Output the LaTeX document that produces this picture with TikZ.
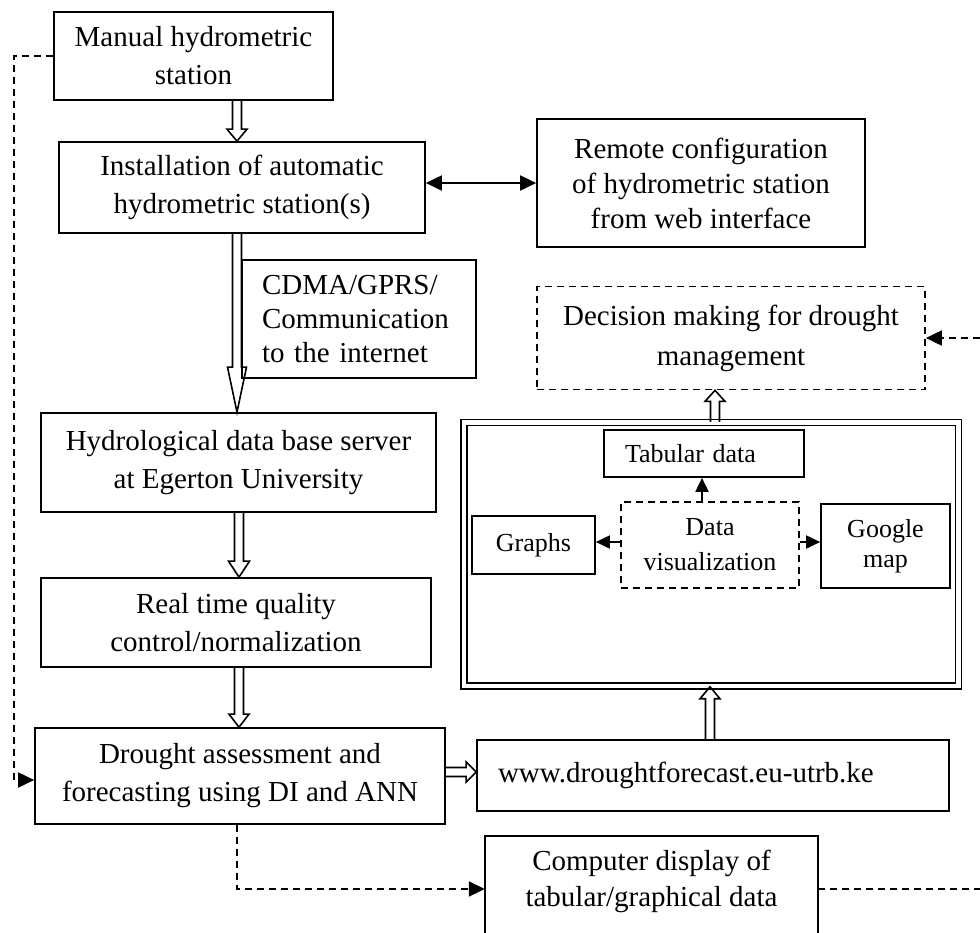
\documentclass[tikz,border=0pt]{standalone}
\usepackage{fontspec}
\setmainfont{Liberation Serif}
\usetikzlibrary{arrows.meta,calc}

% Hollow block arrows: #1 start, #2 tip, #3 head length, #4 head half-width
\newcommand\fatdown[4]{%
  \draw[fat] let \p1=(#1), \p2=(#2) in
    (\x1-4.5pt,\y1) -- (\x1-4.5pt,\y2+#3) -- (\x1-#4,\y2+#3) -- (\x1,\y2)
    -- (\x1+#4,\y2+#3) -- (\x1+4.5pt,\y2+#3) -- (\x1+4.5pt,\y1);}
\newcommand\fatup[4]{%
  \draw[fat] let \p1=(#1), \p2=(#2) in
    (\x1-4.5pt,\y1) -- (\x1-4.5pt,\y2-#3) -- (\x1-#4,\y2-#3) -- (\x1,\y2)
    -- (\x1+#4,\y2-#3) -- (\x1+4.5pt,\y2-#3) -- (\x1+4.5pt,\y1);}
\newcommand\fatright[4]{%
  \draw[fat] let \p1=(#1), \p2=(#2) in
    (\x1,\y1+4.5pt) -- (\x2-#3,\y1+4.5pt) -- (\x2-#3,\y1+#4) -- (\x2,\y1)
    -- (\x2-#3,\y1-#4) -- (\x2-#3,\y1-4.5pt) -- (\x1,\y1-4.5pt);}

\begin{document}
\begin{tikzpicture}[x=1pt,y=-1pt,
  box/.style={draw, line width=1.7pt, align=center, inner sep=0pt,
    font=\fontsize{29}{38}\selectfont},
  dbox/.style={box, dash pattern=on 7pt off 5pt},
  sbox/.style={box, font=\fontsize{26}{33}\selectfont},
  fat/.style={line width=1.6pt, line join=miter},
  tip/.style={-{Triangle[length=16pt,width=15pt]}},
  link/.style={line width=1.9pt, tip},
  dline/.style={line width=1.9pt, dash pattern=on 7pt off 5pt},
  dlink/.style={dline, tip}]
\useasboundingbox (0,0) rectangle (980,932);
\clip (0,0) rectangle (980,932);

% main column
\node[box, minimum width=279pt, minimum height=88pt] (man) at (193.5,56)
  {Manual hydrometric\\station};
\node[box, minimum width=366pt, minimum height=91pt] (inst) at (242,187.5)
  {Installation of automatic\\hydrometric station(s)};
\node[box, minimum width=328pt, minimum height=128pt,
  font=\fontsize{29}{35}\selectfont] (remote) at (701,183)
  {Remote configuration\\of hydrometric station\\from web interface};
\node[box, minimum width=234pt, minimum height=118pt, text width=194pt,
  align=left, font=\fontsize{29}{34}\selectfont] (cdma) at (359,319)
  {CDMA/GPRS/\\Communication\\to the internet};
\node[box, minimum width=395pt, minimum height=99pt] (hydro) at (238.5,462.5)
  {Hydrological data base server\\at Egerton University};
\node[box, minimum width=390pt, minimum height=89pt] (real) at (236,622.5)
  {Real time quality\\control/normalization};
\node[box, minimum width=410pt, minimum height=96pt] (drought) at (240,776)
  {Drought assessment and\\forecasting using DI and ANN};

% web side
\node[box, minimum width=472pt, minimum height=71pt, text width=430pt,
  align=left] (www) at (713,775.5) {www.droughtforecast.eu-utrb.ke};
\node[dbox, minimum width=388pt, minimum height=103pt,
  font=\fontsize{29}{40}\selectfont] (decision) at (731,338)
  {Decision making for drought\\management};
\node[draw, double, double distance=4.5pt, line width=1.5pt, inner sep=0pt,
  minimum width=494.5pt, minimum height=263.5pt] (frame) at (711.25,554.25) {};
\node[sbox, minimum width=200pt, minimum height=47pt, text width=158pt,
  align=left] (tab) at (704,453.5) {Tabular data};
\node[sbox, dash pattern=on 7pt off 5pt, minimum width=178pt,
  minimum height=86pt, font=\fontsize{26}{35}\selectfont] (dv) at (710,545)
  {Data\\visualization};
\node[sbox, minimum width=123pt, minimum height=58pt] (graphs) at (533.5,545)
  {Graphs};
\node[sbox, minimum width=129pt, minimum height=84pt,
  font=\fontsize{26}{30}\selectfont] (google) at (885.5,546) {Google\\map};

% display box, open at the lower edge
\node[align=center, inner sep=0pt, minimum width=333pt, minimum height=90pt,
  font=\fontsize{29}{36}\selectfont] (comp) at (651.5,881)
  {Computer display of\\tabular/graphical data};
\draw[line width=1.7pt] ([yshift=-60pt]comp.south west) -- (comp.north west)
  -- (comp.north east) -- ([yshift=-60pt]comp.south east);

% guide coordinates
\coordinate (c1) at (237,0);
\coordinate (c2) at (239,0);
\coordinate (c4) at (710,0);
\coordinate (c5) at (715,0);
\coordinate (c6) at (702,0);
\coordinate (loop) at (14,0);
\coordinate (edgeR) at (980,0);
\coordinate (wy) at (0,772);
\coordinate (ly) at (0,780);
\coordinate (cy) at (0,889);
\coordinate (gy) at (0,542);

% block arrows
\fatdown{man.south -| c1}{inst.north -| c1}{12pt}{10pt}
\fatdown{inst.south -| c1}{hydro.north -| c1}{45pt}{9.5pt}
\fatdown{hydro.south -| c2}{real.north -| c2}{16pt}{10.5pt}
\fatdown{real.south -| c2}{drought.north -| c2}{13pt}{10pt}
\fatright{drought.east |- wy}{www.west |- wy}{10pt}{10pt}
\fatup{www.north -| c4}{frame.south -| c4}{12pt}{10pt}
\fatup{frame.north -| c5}{decision.south -| c5}{11pt}{10pt}

% solid connectors
\draw[line width=1.9pt, {Triangle[length=16pt,width=15pt]}-{Triangle[length=16pt,width=15pt]}]
  (inst.east |- remote.west) -- (remote.west);
\draw[link, -{Triangle[length=14pt,width=13pt]}] (dv.north -| c6) -- (tab.south -| c6);
\draw[link, -{Triangle[length=14pt,width=13pt]}] (dv.west |- gy) -- (graphs.east |- gy);
\draw[link, -{Triangle[length=14pt,width=13pt]}] (dv.east |- gy) -- (google.west |- gy);

% dashed feedback lines
\draw[dlink] (man.west) -- (man.west -| loop) -- (loop |- ly) -- (drought.west |- ly);
\draw[dlink] (drought.south -| c1) -- (c1 |- cy) -- (comp.west |- cy);
\draw[dline] (comp.east |- cy) -- (edgeR |- cy);
\draw[dlink] (edgeR |- decision.east) -- (decision.east);
\end{tikzpicture}
\end{document}
